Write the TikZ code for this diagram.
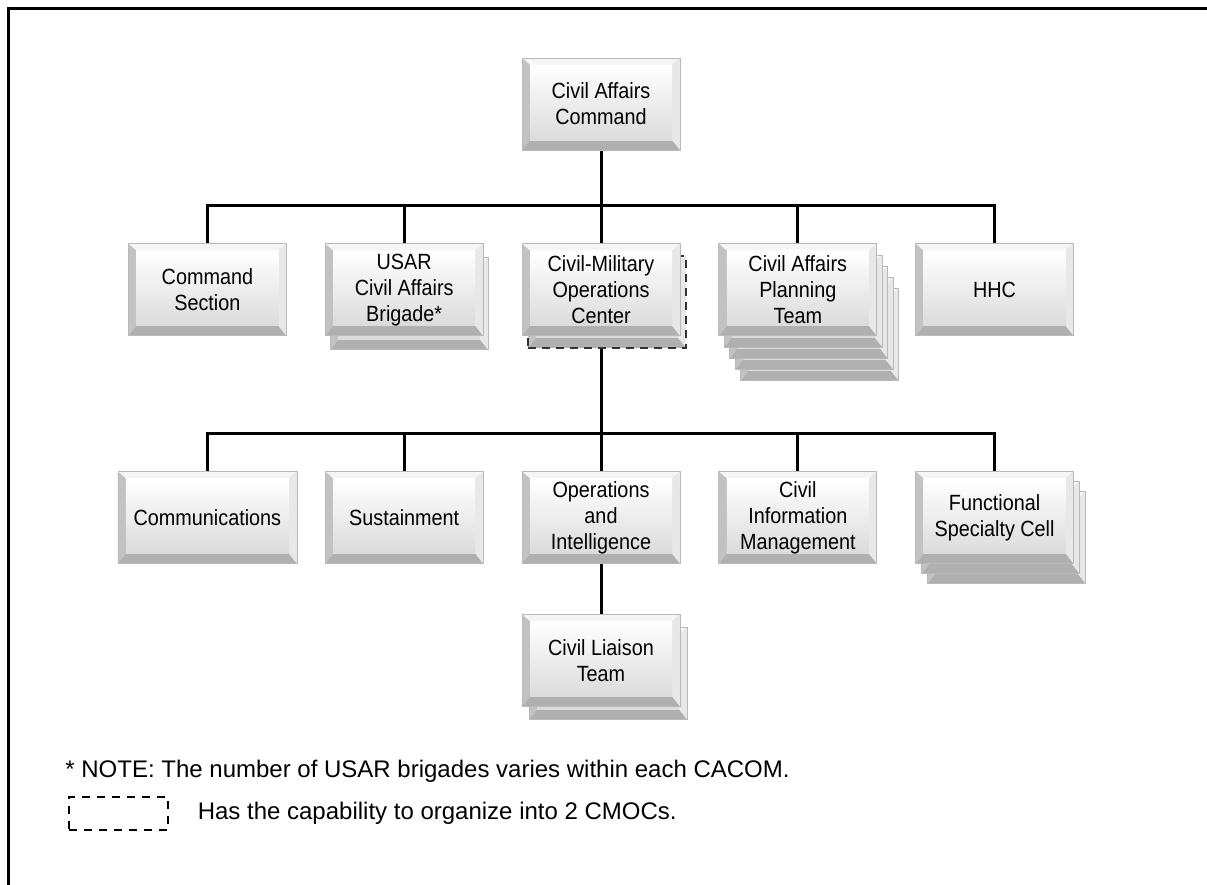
\documentclass[tikz,border=0pt]{standalone}
\usepackage{fontspec}
\setmainfont{Liberation Sans}
\newfontfamily\boxfont[FakeStretch=0.9]{Liberation Sans}
\usetikzlibrary{positioning, calc}
\pgfdeclarelayer{paper}
\pgfdeclarelayer{under}
\pgfsetlayers{paper,under,main}
\tikzset{
	node distance=19pt,
	bevelbox/.style={rectangle, draw=gray!55, line width=0.4pt,
		minimum width=79pt, minimum height=46pt, inner sep=2pt,
		align=center, font=\boxfont\fontsize{11}{13}\selectfont,
		path picture={
			\path (path picture bounding box.north west) coordinate (bnw)
				(path picture bounding box.north east) coordinate (bne)
				(path picture bounding box.south west) coordinate (bsw)
				(path picture bounding box.south east) coordinate (bse);
			\fill[gray!32] (bnw) rectangle (bse);
			\fill[gray!8] (bnw) -- (bne) -- ++(-4pt,-3.5pt) -- ($(bnw)+(4pt,-3.5pt)$) -- cycle;
			\fill[gray!62] (bsw) -- (bse) -- ++(-4pt,5pt) -- ($(bsw)+(4pt,5pt)$) -- cycle;
			\fill[gray!48] (bnw) -- (bsw) -- ++(4pt,5pt) -- ($(bnw)+(4pt,-3.5pt)$) -- cycle;
			\fill[gray!18] (bne) -- (bse) -- ++(-4pt,5pt) -- ($(bne)+(-4pt,-3.5pt)$) -- cycle;
			\shade[top color=white, bottom color=gray!28]
				($(bnw)+(4pt,-3.5pt)$) rectangle ($(bse)+(-4pt,5pt)$);
		}},
	stackbox/.style={bevelbox},
	dashbox/.style={bevelbox, draw=black!80, line width=0.9pt, dash pattern=on 4pt off 3pt},
	link/.style={line width=1.5pt, black},
	legend/.style={font=\fontsize{12}{14}\selectfont, anchor=west, inner sep=0pt}
}

\begin{document}
\begin{tikzpicture}[x=0.5pt, y=-0.5pt]

	\useasboundingbox (0,0) rectangle (1207,885);
	\begin{pgfonlayer}{paper}
		\fill[white] (0,0) rectangle (1207,885);
		\draw[line width=1.5pt] (8,900) |- (1230,8);
	\end{pgfonlayer}

	% command level
	\node[bevelbox] (cac) at (601,104) {Civil Affairs\\Command};
	\node[bevelbox, below=46.5pt of cac] (cmoc) {Civil-Military\\Operations\\Center};
	\node[bevelbox, left=of cmoc] (usar) {USAR\\Civil Affairs\\Brigade*};
	\node[bevelbox, left=of usar] (cmd) {Command\\Section};
	\node[bevelbox, right=of cmoc] (plan) {Civil Affairs\\Planning\\Team};
	\node[bevelbox, right=of plan] (hhc) {HHC};

	% CMOC sections
	\node[bevelbox, below=67.5pt of cmoc] (ops) {Operations\\and\\Intelligence};
	\node[bevelbox, left=of ops] (sus) {Sustainment};
	\node[bevelbox, minimum width=89.5pt, left=13.75pt of sus] (comm) {Communications};
	\node[bevelbox, right=of ops] (cim) {Civil\\Information\\Management};
	\node[bevelbox, right=of cim] (fsc) {Functional\\Specialty Cell};
	\node[bevelbox, below=25pt of ops] (clt) {Civil Liaison\\Team};

	\begin{pgfonlayer}{under}
		\coordinate (bus1) at ($(cmoc.north)+(0,19pt)$);
		\coordinate (bus2) at ($(ops.north)+(0,19pt)$);
		\draw[link] (cac) -- (bus1);
		\foreach \n in {cmd,usar,cmoc,plan,hhc}
			\draw[link] (bus1) -| (\n.north);
		\draw[link] (cmoc) -- (bus2);
		\foreach \n in {comm,sus,ops,cim,fsc}
			\draw[link] (bus2) -| (\n.north);
		\draw[link] (ops) -- (clt);

		% stacked copies behind
		\node[stackbox] at ($(usar)+(2.5pt,-7pt)$) {};
		\node[dashbox] at ($(cmoc)+(3pt,-6pt)$) {};
		\foreach \k in {4,3,2,1}
			\node[stackbox] at ($(plan)+(\k*2.75pt,-\k*5.6pt)$) {};
		\foreach \k in {2,1}
			\node[stackbox] at ($(fsc)+(\k*3pt,-\k*5pt)$) {};
		\node[stackbox] at ($(clt)+(3.5pt,-6.5pt)$) {};
	\end{pgfonlayer}

	% notes
	\node[legend] (note) at (65,771) {* NOTE: The number of USAR brigades varies within each CACOM.};
	\node[draw, line width=1.4pt, dash pattern=on 4pt off 3.5pt, minimum width=49.5pt,
		minimum height=16.5pt, inner sep=0pt] (legbox) at (118.5,813.5) {};
	\node[legend, right=14pt of legbox] (legtext) {Has the capability to organize into 2 CMOCs.};

\end{tikzpicture}
\end{document}
